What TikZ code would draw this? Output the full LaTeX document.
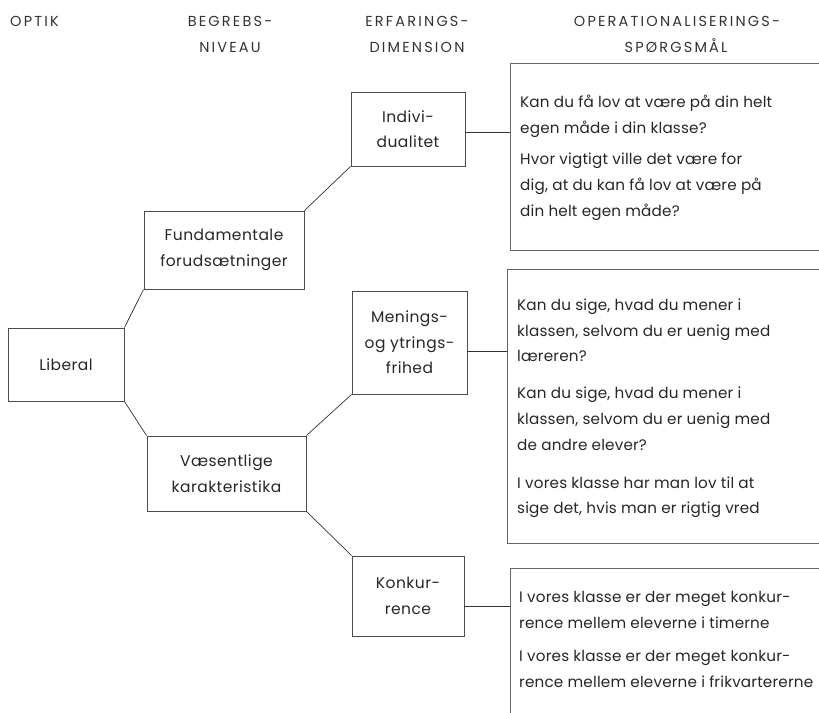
\documentclass[tikz,border=0pt]{standalone}
\usepackage{fontspec}
\setmainfont{Poppins}
\usetikzlibrary{calc}
\newcommand\bodyfont{\fontsize{15.2}{25.8}\selectfont\addfontfeatures{LetterSpace=1.2}}
\newcommand\labelfont{\fontsize{15.5}{25.5}\selectfont\addfontfeatures{LetterSpace=3}}
\newcommand\headfont{\fontsize{14.5}{26}\selectfont\addfontfeatures{LetterSpace=15}}
\begin{document}
\begin{tikzpicture}[x=1pt,y=-1pt,
  box/.style={draw=black!70, line width=0.9pt, inner sep=0pt, align=center, font=\labelfont, text=black!85},
  ans/.style={draw=black!60, line width=1.2pt, inner sep=0pt, anchor=north west},
  txt/.style={anchor=north west, inner sep=0pt, align=left, font=\bodyfont, text=black!85},
  head/.style={inner sep=0pt, font=\headfont, text=black!80, anchor=base},
  conn/.style={draw=black!80, line width=0.7pt}]
\useasboundingbox (0,0) rectangle (819,712);
\clip (0,0) rectangle (819,712);
% headers
\node[head, anchor=base west] (h1) at (10,26) {OPTIK};
\node[head] (h2a) at (230,26) {BEGREBS-};
\node[head] (h2b) at (230,52.5) {NIVEAU};
\node[head] (h3a) at (417,26) {ERFARINGS-};
\node[head] (h3b) at (417,52.5) {DIMENSION};
\node[head] (h4a) at (677,26) {OPERATIONALISERINGS-};
\node[head] (h4b) at (676,52.5) {SPØRGSMÅL};
% concept boxes
\node[box, minimum width=116pt, minimum height=73pt] (lib) at (66,364.5) {Liberal};
\node[box, minimum width=160pt, minimum height=78pt] (fund) at (224,250) {Fundamentale\\forudsætninger};
\node[box, minimum width=159pt, minimum height=75pt] (vaes) at (226.5,473.5) {Væsentlige\\karakteristika};
\node[box, minimum width=114pt, minimum height=74pt] (indi) at (408,129) {Indivi-\\dualitet};
\node[box, minimum width=115pt, minimum height=103pt] (men) at (409.5,342.5) {Menings-\\og ytrings-\\frihed};
\node[box, minimum width=112pt, minimum height=80pt] (konk) at (408,596) {Konkur-\\rence};
% answer boxes
\node[ans, minimum width=330pt, minimum height=187pt] (a1) at (510,63) {};
\node[ans, minimum width=333pt, minimum height=274pt] (a2) at (507,269) {};
\node[ans, minimum width=330pt, minimum height=180pt] (a3) at (510,568) {};
\node[txt] (t1) at (520,89) {\strut Kan du få lov at være på din helt\\egen måde i din klasse?\\[6pt]Hvor vigtigt ville det være for\\dig, at du kan få lov at være på\\din helt egen måde?};
\node[txt] (t2) at (517,292) {\strut Kan du sige, hvad du mener i\\klassen, selvom du er uenig med\\læreren?\\[11pt]Kan du sige, hvad du mener i\\klassen, selvom du er uenig med\\de andre elever?\\[12pt]I vores klasse har man lov til at\\sige det, hvis man er rigtig vred};
\node[txt] (t3) at (519,584) {\strut I vores klasse er der meget konkur-\\rence mellem eleverne i timerne\\[8pt]I vores klasse er der meget konkur-\\rence mellem eleverne i frikvartererne};
% connectors
\draw[conn] (lib.north east) -- (fund.south west);
\draw[conn] (fund.north east) -- (indi.south west);
\draw[conn] (lib.south east) -- (vaes.north west);
\draw[conn] (vaes.north east) -- (men.south west);
\draw[conn] (vaes.south east) -- (konk.north west);
\coordinate (c1) at ($(indi.east)+(0,3)$);
\coordinate (c2) at ($(men.east)+(0,8.5)$);
\coordinate (c3) at ($(konk.east)+(0,10)$);
\draw[conn] (c1) -- (c1 -| a1.west);
\draw[conn] (c2) -- (c2 -| a2.west);
\draw[conn] (c3) -- (c3 -| a3.west);
\end{tikzpicture}
\end{document}
